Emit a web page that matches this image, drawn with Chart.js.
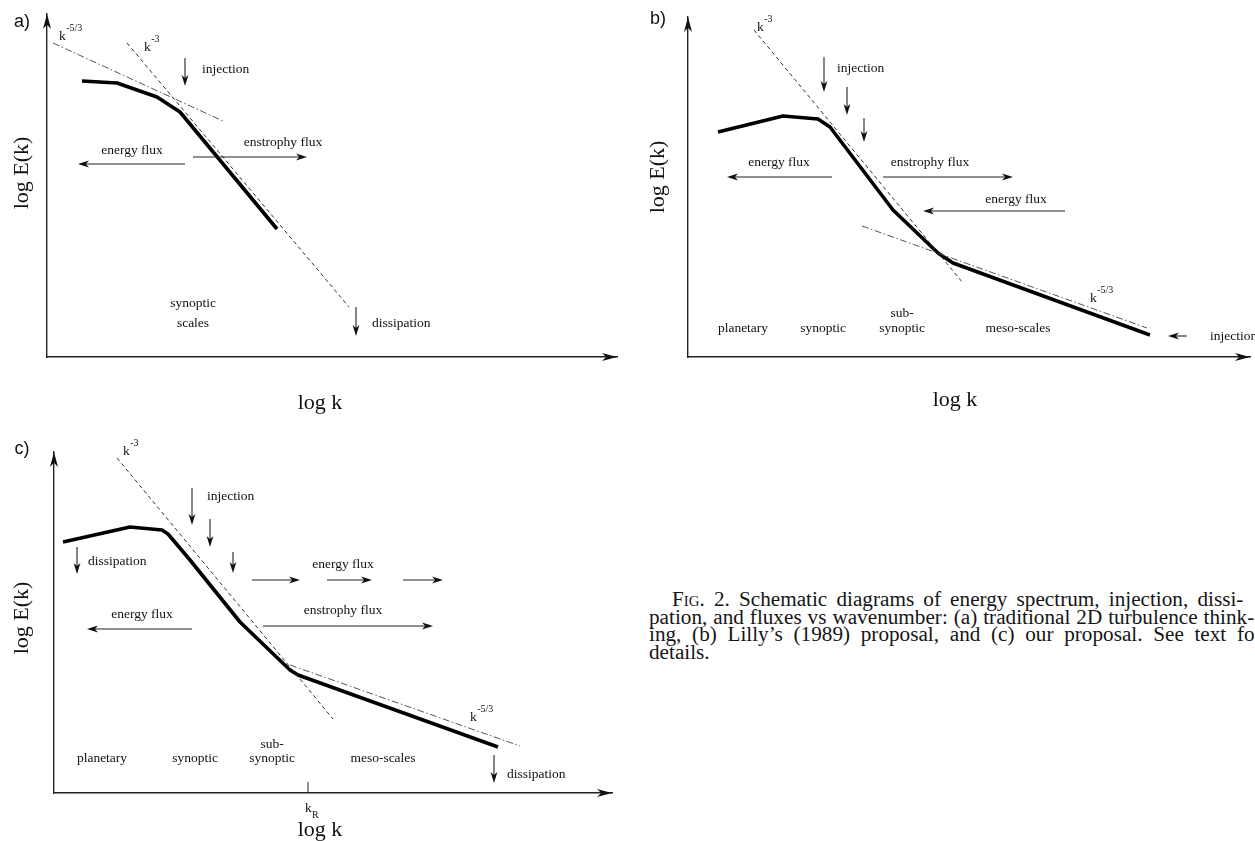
<!DOCTYPE html>
<html>
<head>
<meta charset="utf-8">
<script src="https://cdn.jsdelivr.net/npm/chart.js@4.4.1/dist/chart.umd.min.js"></script>
<style>
html, body { margin: 0; padding: 0; background: #fff; }
body { width: 1255px; height: 841px; overflow: hidden; position: relative; }
canvas { position: absolute; }
#cap { position: absolute; left: 649px; top: 591px; color: #151515;
       font: 20px "Liberation Serif", "Times New Roman", serif; line-height: 17.7px; }
#cap div { text-align: justify; text-align-last: justify; transform: scaleX(1.06); transform-origin: 0 0; }
#cap div.last { text-align-last: left; }
.sc { font-variant: small-caps; }
</style>
</head>
<body>
<canvas id="panelA" width="640" height="440" style="left:0;top:0"></canvas>
<canvas id="panelB" width="615" height="440" style="left:640px;top:0"></canvas>
<canvas id="panelC" width="640" height="411" style="left:0;top:430px"></canvas>
<div id="cap">
  <div style="margin-left:23px;width:539px"><span class="sc">Fig.</span> 2. Schematic diagrams of energy spectrum, injection, dissi-</div>
  <div style="width:571px">pation, and fluxes vs wavenumber: (a) traditional 2D turbulence think-</div>
  <div style="width:578px">ing, (b) Lilly’s (1989) proposal, and (c) our proposal. See text for</div>
  <div class="last" style="width:578px">details.</div>
</div>
<script>
// schematic spectra, in arbitrary log k / log E(k) units (origin at the axes corner)

// (a) traditional 2D turbulence
const specAk = [3.5, 7.0, 11.0, 13.3, 23.0];
const specAE = [27.6, 27.4, 26.0, 24.5, 12.8];
const k3Ak = [8.0, 30.2];
const k3AE = [31.4, 5.0];
const k53Ak = [0.6, 17.6];
const k53AE = [31.4, 23.6];

// (b) Lilly (1989)
const specBk = [3.0, 9.5, 13.0, 14.2, 20.5, 25.0, 26.5, 46.2];
const specBE = [22.5, 24.1, 23.8, 23.0, 14.7, 10.4, 9.4, 2.2];
const k3Bk = [6.6, 27.5];
const k3BE = [32.7, 7.4];
const k53Bk = [17.4, 45.9];
const k53BE = [13.1, 2.9];

// (c) our proposal
const specCk = [0.9, 7.6, 10.8, 11.4, 13.6, 18.6, 23.6, 24.4, 44.4];
const specCE = [25.1, 26.6, 26.3, 25.9, 23.3, 17.1, 12.3, 11.8, 4.6];
const k3Ck = [6.3, 27.9];
const k3CE = [33.5, 7.4];
const k53Ck = [23.6, 46.6];
const k53CE = [12.8, 4.7];

// axis extents (log k max, log E max)
const axisA = [57.0, 34.3];
const axisB = [56.2, 34.0];
const axisC = [55.8, 34.1];

// flux / injection / dissipation arrows: [k from, E from, k to, E to]
const arrowsA = [[13.8, 29.9, 13.8, 27.1], [13.8, 19.3, 3.1, 19.3], [14.6, 20.0, 26.0, 20.0], [30.9, 5.0, 30.9, 2.1]];
const arrowsB = [[13.6, 30.0, 13.6, 26.5], [15.9, 27.0, 15.9, 24.2], [17.6, 23.9, 17.6, 21.5],
                 [14.4, 18.0, 3.9, 18.0], [19.5, 18.0, 32.5, 18.0], [37.7, 14.6, 23.5, 14.6], [49.9, 2.1, 48.0, 2.1]];
const arrowsC = [[13.8, 30.5, 13.8, 26.8], [15.6, 27.4, 15.6, 24.6], [17.9, 24.1, 17.9, 22.0], [2.3, 24.6, 2.3, 21.9],
                 [19.8, 21.3, 24.6, 21.3], [27.3, 21.3, 31.8, 21.3], [34.9, 21.3, 38.9, 21.3],
                 [20.9, 16.7, 37.9, 16.7], [13.8, 16.4, 3.3, 16.4], [44.0, 3.8, 44.0, 1.0]];

// labels: [text, k, E, align]
const labelsA = [['injection', 15.5, 28.8, 'left'], ['energy flux', 8.5, 20.7, 'center'], ['enstrophy flux', 23.6, 21.5, 'center'],
                 ['synoptic', 14.6, 5.4, 'center'], ['scales', 14.6, 3.4, 'center'], ['dissipation', 32.5, 3.4, 'left']];
const labelsB = [['injection', 14.9, 28.9, 'left'], ['energy flux', 9.1, 19.5, 'center'], ['enstrophy flux', 24.2, 19.5, 'center'],
                 ['energy flux', 32.8, 15.8, 'center'], ['planetary', 5.5, 2.9, 'center'], ['synoptic', 13.5, 2.9, 'center'],
                 ['sub-', 21.4, 4.4, 'center'], ['synoptic', 21.4, 2.9, 'center'], ['meso-scales', 33.0, 2.9, 'center'],
                 ['injection', 52.2, 2.1, 'left']];
const labelsC = [['injection', 15.3, 29.7, 'left'], ['dissipation', 3.4, 23.2, 'left'], ['energy flux', 28.9, 22.9, 'center'],
                 ['enstrophy flux', 28.9, 18.3, 'center'], ['energy flux', 8.8, 17.9, 'center'], ['planetary', 4.8, 3.5, 'center'],
                 ['synoptic', 14.1, 3.5, 'center'], ['sub-', 21.8, 4.9, 'center'], ['synoptic', 21.8, 3.5, 'center'],
                 ['meso-scales', 32.9, 3.5, 'center'], ['dissipation', 45.3, 1.9, 'left']];

// power laws written as k^exp : [exponent, k, E]
const powersA = [['-5/3', 1.2, 32.1], ['-3', 9.7, 31.0]];
const powersB = [['-5/3', 40.2, 5.9], ['-3', 6.9, 33.0]];
const powersC = [['-5/3', 41.6, 7.6], ['-3', 6.9, 34.2]];

const SERIF = '"Liberation Serif", "Times New Roman", serif';

function pts(xs, ys) {
    return xs.map((x, i) => ({ x: x, y: ys[i] }));
}

function head(ctx, tx, ty, ux, uy, len, hw) {
    const bx = tx - ux * len, by = ty - uy * len;
    const nx = tx - ux * len * 0.72, ny = ty - uy * len * 0.72;
    ctx.beginPath();
    ctx.moveTo(tx, ty);
    ctx.lineTo(bx - uy * hw, by + ux * hw);
    ctx.lineTo(nx, ny);
    ctx.lineTo(bx + uy * hw, by - ux * hw);
    ctx.closePath();
    ctx.fill();
}

const annot = {
    id: 'annot',
    afterDraw(chart) {
        const o = chart.options.plugins.annot;
        const ctx = chart.ctx, a = chart.chartArea;
        const X = v => chart.scales.x.getPixelForValue(v);
        const Y = v => chart.scales.y.getPixelForValue(v);
        ctx.save();
        ctx.fillStyle = '#111';
        ctx.strokeStyle = '#222';

        // axis arrow heads
        head(ctx, a.right, a.bottom, 1, 0, 15, 4);
        head(ctx, a.left, a.top, 0, -1, 15, 4);

        // arrows
        ctx.lineWidth = 1.1;
        o.arrows.forEach(([x1, y1, x2, y2]) => {
            const px1 = X(x1), py1 = Y(y1), px2 = X(x2), py2 = Y(y2);
            const d = Math.hypot(px2 - px1, py2 - py1);
            const ux = (px2 - px1) / d, uy = (py2 - py1) / d;
            ctx.beginPath();
            ctx.moveTo(px1, py1);
            ctx.lineTo(px2 - ux * 7, py2 - uy * 7);
            ctx.stroke();
            head(ctx, px2, py2, ux, uy, 11, 3.4);
        });

        // k_R tick
        if (o.kR !== undefined) {
            ctx.lineWidth = 1;
            ctx.beginPath();
            ctx.moveTo(X(o.kR), a.bottom);
            ctx.lineTo(X(o.kR), a.bottom - 11);
            ctx.stroke();
            ctx.font = '13.5px ' + SERIF;
            ctx.textAlign = 'left';
            ctx.textBaseline = 'middle';
            ctx.fillText('k', X(o.kR) - 3, a.bottom + 15);
            ctx.font = '10px ' + SERIF;
            ctx.fillText('R', X(o.kR) + 4, a.bottom + 22);
        }

        // text labels
        ctx.font = '13.5px ' + SERIF;
        ctx.textBaseline = 'middle';
        o.labels.forEach(([t, x, y, al]) => {
            ctx.textAlign = al;
            ctx.fillText(t, X(x), Y(y));
        });

        // power-law labels
        o.powers.forEach(([e, x, y]) => {
            ctx.textAlign = 'left';
            ctx.font = '13.5px ' + SERIF;
            ctx.fillText('k', X(x), Y(y));
            const w = ctx.measureText('k').width;
            ctx.font = '10px ' + SERIF;
            ctx.fillText(e, X(x) + w + 0.5, Y(y) - 8);
        });

        // axis titles and panel letter
        ctx.font = '22px ' + SERIF;
        ctx.textAlign = 'center';
        ctx.fillText('log k', X(o.xTitle[0]), Y(o.xTitle[1]));
        ctx.save();
        ctx.translate(X(o.yTitle[0]), Y(o.yTitle[1]));
        ctx.rotate(-Math.PI / 2);
        ctx.fillText('log E(k)', 0, 0);
        ctx.restore();
        ctx.font = '18px "Liberation Sans", Arial, sans-serif';
        ctx.fillText(o.letter[0], X(o.letter[1]), Y(o.letter[2]));
        ctx.restore();
    }
};

function makePanel(id, pad, axis, spec, k3, k53, extra) {
    const axisOpts = max => ({
        type: 'linear', min: 0, max: max, display: true,
        grid: { display: false, drawTicks: false },
        ticks: { display: false },
        border: { display: true, color: '#222', width: 1.4 }
    });
    return new Chart(document.getElementById(id), {
        type: 'scatter',
        data: {
            datasets: [
                { data: k3, showLine: true, pointRadius: 0, borderColor: '#333', borderWidth: 1, borderDash: [4, 3] },
                { data: k53, showLine: true, pointRadius: 0, borderColor: '#555', borderWidth: 1, borderDash: [7, 2.5, 1.5, 2.5] },
                { data: spec, showLine: true, pointRadius: 0, borderColor: '#000', borderWidth: 3.6,
                  borderJoinStyle: 'round', borderCapStyle: 'butt' }
            ]
        },
        options: {
            responsive: false,
            animation: false,
            devicePixelRatio: 1,
            layout: { padding: pad },
            scales: { x: axisOpts(axis[0]), y: axisOpts(axis[1]) },
            plugins: { legend: { display: false }, tooltip: { enabled: false }, annot: extra }
        },
        plugins: [annot]
    });
}

makePanel('panelA', { left: 47, right: 23, top: 14, bottom: 83 }, axisA,
    pts(specAk, specAE), pts(k3Ak, k3AE), pts(k53Ak, k53AE),
    { arrows: arrowsA, labels: labelsA, powers: powersA,
      xTitle: [27.3, -4.6], yTitle: [-2.5, 18.4], letter: ['a)', -2.5, 33.5] });

makePanel('panelB', { left: 48, right: 5, top: 17, bottom: 83 }, axisB,
    pts(specBk, specBE), pts(k3Bk, k3BE), pts(k53Bk, k53BE),
    { arrows: arrowsB, labels: labelsB, powers: powersB,
      xTitle: [26.7, -4.3], yTitle: [-3.0, 18.0], letter: ['b)', -3.0, 33.8] });

makePanel('panelC', { left: 54, right: 28, top: 22, bottom: 48 }, axisC,
    pts(specCk, specCE), pts(k3Ck, k3CE), pts(k53Ck, k53CE),
    { arrows: arrowsC, labels: labelsC, powers: powersC, kR: 25.4,
      xTitle: [26.6, -3.7], yTitle: [-3.2, 17.5], letter: ['c)', -3.2, 34.4] });
</script>
</body>
</html>
